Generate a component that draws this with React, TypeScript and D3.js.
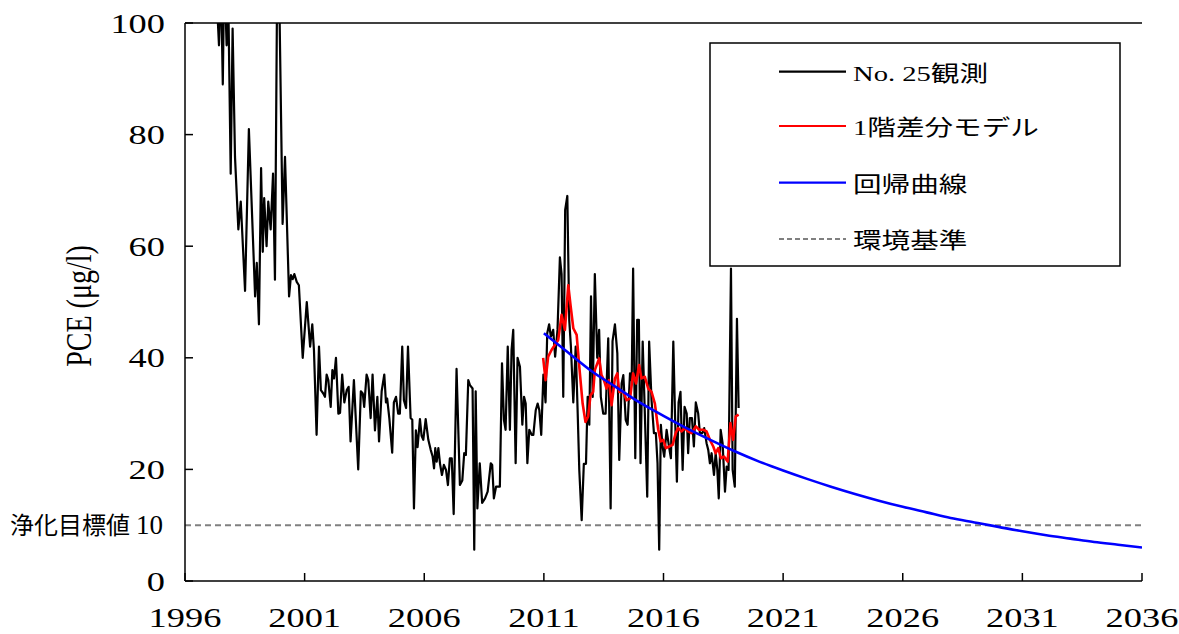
import React from "react";
import * as d3 from "d3";

const W = 1179;
const H = 634;
const SX = 1.3; // horizontal text stretch seen in the reference

const xTicks = [1996, 2001, 2006, 2011, 2016, 2021, 2026, 2031, 2036];
const yTicks = [0, 20, 40, 60, 80, 100];
const targetValue = 10;

const obsYears = [
  1997.32, 1997.42, 1997.5, 1997.58, 1997.64, 1997.74, 1997.81, 1997.91, 1997.99, 1998.09,
  1998.23, 1998.33, 1998.51, 1998.67, 1998.93, 1999.0, 1999.09, 1999.18, 1999.25, 1999.31,
  1999.41, 1999.48, 1999.58, 1999.68, 1999.76, 1999.87, 1999.94, 2000.08, 2000.18, 2000.35,
  2000.43, 2000.5, 2000.57, 2000.67, 2000.76, 2000.92, 2001.09, 2001.23, 2001.32, 2001.39,
  2001.5, 2001.6, 2001.68, 2001.78, 2001.85, 2001.92, 2001.99, 2002.09, 2002.16, 2002.23,
  2002.31, 2002.41, 2002.48, 2002.57, 2002.66, 2002.76, 2002.84, 2002.92, 2003.06, 2003.24,
  2003.35, 2003.43, 2003.49, 2003.59, 2003.66, 2003.76, 2003.84, 2003.94, 2004.04, 2004.11,
  2004.22, 2004.33, 2004.4, 2004.45, 2004.54, 2004.66, 2004.73, 2004.82, 2004.91, 2004.98,
  2005.08, 2005.15, 2005.24, 2005.32, 2005.43, 2005.5, 2005.57, 2005.65, 2005.72, 2005.82,
  2005.89, 2005.96, 2006.06, 2006.17, 2006.27, 2006.35, 2006.41, 2006.46, 2006.52, 2006.59,
  2006.66, 2006.74, 2006.82, 2006.91, 2006.99, 2007.07, 2007.15, 2007.23, 2007.35, 2007.49,
  2007.59, 2007.67, 2007.74, 2007.84, 2007.91, 2008.02, 2008.09, 2008.15, 2008.22, 2008.32,
  2008.42, 2008.54, 2008.65, 2008.78, 2008.84, 2008.91, 2009.0, 2009.16, 2009.25, 2009.33,
  2009.4, 2009.49, 2009.58, 2009.65, 2009.72, 2009.82, 2009.9, 2010.0, 2010.1, 2010.17,
  2010.24, 2010.31, 2010.39, 2010.49, 2010.56, 2010.66, 2010.74, 2010.81, 2010.89, 2010.98,
  2011.07, 2011.14, 2011.22, 2011.29, 2011.39, 2011.47, 2011.57, 2011.67, 2011.74, 2011.81,
  2011.89, 2011.98, 2012.06, 2012.13, 2012.23, 2012.33, 2012.41, 2012.48, 2012.58, 2012.67,
  2012.76, 2012.83, 2012.9, 2012.97, 2013.04, 2013.13, 2013.23, 2013.31, 2013.38, 2013.48,
  2013.58, 2013.69, 2013.79, 2013.87, 2013.97, 2014.07, 2014.15, 2014.25, 2014.32, 2014.42,
  2014.5, 2014.6, 2014.67, 2014.73, 2014.82, 2014.9, 2014.97, 2015.04, 2015.13, 2015.22,
  2015.32, 2015.4, 2015.5, 2015.6, 2015.68, 2015.75, 2015.82, 2015.89, 2015.96, 2016.03,
  2016.13, 2016.23, 2016.31, 2016.41, 2016.48, 2016.56, 2016.63, 2016.71, 2016.8, 2016.88,
  2016.97, 2017.03, 2017.1, 2017.19, 2017.27, 2017.35, 2017.45, 2017.52, 2017.62, 2017.7,
  2017.8, 2017.87, 2017.94, 2018.01, 2018.11, 2018.18, 2018.25, 2018.31, 2018.39, 2018.47,
  2018.57, 2018.64, 2018.72, 2018.82, 2018.89, 2018.98, 2019.07, 2019.14,
];

const obsValues = [
  105, 96, 108, 89, 110, 96, 104, 73, 99, 76,
  63, 68, 52, 81, 51, 57, 46, 74, 59, 68.6,
  60, 68, 63, 73, 54, 118, 105, 64, 76, 51,
  54.8, 54.1, 55, 53.6, 53, 40, 50, 42, 46, 41.4,
  26.2, 42, 34.2, 33.6, 33, 37, 36, 31.2, 37.8, 36.3,
  40, 30, 30.1, 37, 32, 34.2, 34.8, 25, 36, 20,
  34, 33.6, 31.2, 37, 36, 29.2, 37, 27, 33, 25,
  34, 37, 32, 32.7, 29.2, 23, 32, 33, 30, 30,
  42, 32.4, 31, 42, 29.2, 28.9, 13, 27, 24, 29,
  26, 25.3, 29, 25.3, 23.5, 22.3, 20.2, 23.8, 21.4, 23.8,
  21, 19, 20.8, 19.9, 17.2, 22, 22, 12, 38, 17.2,
  18, 22.9, 22.6, 36, 35.1, 34.5, 5.6, 34, 13, 21.1,
  14, 14.8, 16, 21.1, 20.8, 14.8, 16.9, 16.9, 39, 28.9,
  27.1, 42, 27.1, 41.4, 45, 21.1, 40, 38.4, 28, 33,
  31.8, 21.1, 27.1, 26.2, 26.2, 30.6, 31.8, 30.6, 26.2, 37,
  32, 44.4, 46, 43.8, 45, 40.2, 45, 58, 55, 33,
  66.5, 69, 46.8, 42, 32, 42, 30.6, 19.9, 10.9, 21,
  21, 33, 28, 51, 33, 55, 40, 45, 33, 30,
  30, 43.5, 13, 43, 46, 40.8, 21.7, 35.4, 36.9, 28.9,
  28, 37.2, 36, 56, 22, 46.8, 46.8, 21.1, 42.9, 30,
  15.1, 42.9, 32.4, 26.5, 26.5, 21.1, 5.6, 28, 24.1, 22.3,
  27.1, 24.1, 22, 42.9, 30, 17.8, 32, 33.9, 19.9, 31.2,
  30, 22.9, 29.2, 29.2, 24.1, 32, 30, 26.5, 26.5, 27.4,
  24.7, 23.5, 21.1, 22.9, 19, 22.9, 19.9, 14.8, 27.1, 24.7,
  16, 20.5, 19.9, 56, 19.9, 16.9, 47, 31,
];

const modelYears = [
  2010.97, 2011.07, 2011.18, 2011.32, 2011.46, 2011.6, 2011.74, 2011.88, 2012.02, 2012.12,
  2012.23, 2012.37, 2012.48, 2012.62, 2012.74, 2012.85, 2012.95, 2013.06, 2013.13, 2013.31,
  2013.41, 2013.51, 2013.62, 2013.72, 2013.83, 2013.97, 2014.07, 2014.15, 2014.32, 2014.46,
  2014.6, 2014.73, 2014.85, 2014.98, 2015.08, 2015.22, 2015.36, 2015.5, 2015.64, 2015.78,
  2015.88, 2015.99, 2016.1, 2016.24, 2016.38, 2016.51, 2016.61, 2016.76, 2016.89, 2017.03,
  2017.17, 2017.35, 2017.49, 2017.66, 2017.8, 2017.94, 2018.08, 2018.18, 2018.29, 2018.4,
  2018.53, 2018.68, 2018.8, 2018.91, 2019.02, 2019.14,
];

const modelValues = [
  40, 36, 40.2, 41.4, 42.3, 43.2, 47.7, 45, 53, 49.2,
  45.3, 44.1, 38.4, 31.8, 28.5, 29.5, 33.3, 33.9, 37.8, 39.9,
  36.9, 36, 34.5, 36, 31.5, 36.3, 37.2, 33.9, 33.9, 32.4,
  32.7, 37.2, 35.4, 38.7, 36.3, 36.6, 34.5, 33.9, 31.8, 27.1,
  25, 25.3, 23.8, 24.1, 24.4, 26.5, 27.4, 26.8, 27.4, 26.8,
  26.5, 27.7, 27.1, 27.1, 26.8, 25.3, 24.1, 22.9, 23.8, 22,
  22.3, 21.4, 28.3, 25.3, 29.5, 29.8,
];

const regYears = [
  2011, 2012, 2013, 2014, 2015, 2016, 2017, 2018, 2019, 2020, 2021, 2022, 2023,
  2024, 2025, 2026, 2027, 2028, 2029, 2030, 2031, 2032, 2033, 2034, 2035, 2036,
];
const regValues = [
  44.4, 41, 37.6, 34.8, 32, 29.6, 27.3, 25.2, 23.2, 21.4, 19.8, 18.3, 16.9,
  15.6, 14.4, 13.3, 12.3, 11.3, 10.5, 9.7, 8.9, 8.2, 7.6, 7.0, 6.5, 6.0,
];

const legendItems = [
  { label: "No. 25観測", color: "#000000", dash: "" },
  { label: "1階差分モデル", color: "#ff0000", dash: "" },
  { label: "回帰曲線", color: "#0000ff", dash: "" },
  { label: "環境基準", color: "#808080", dash: "5,3" },
];

const SERIF = "'Liberation Serif', 'Times New Roman', 'Noto Sans CJK JP', serif";
const CJK = "'Noto Sans CJK JP', 'Noto Sans', sans-serif";

function STxt(props: {
  x: number;
  y: number;
  anchor?: string;
  size: number;
  family?: string;
  rotate?: number;
  children: React.ReactNode;
}) {
  const { x, y, anchor = "start", size, family = SERIF, rotate = 0, children } = props;
  return (
    <text
      transform={`translate(${x},${y}) scale(${SX},1)${rotate ? ` rotate(${rotate})` : ""}`}
      textAnchor={anchor}
      fontSize={size}
      fontFamily={family}
      fill="#000"
    >
      {children}
    </text>
  );
}

export default function App() {
  const left = 185;
  const right = 1142;
  const top = 23;
  const bottom = 581;

  const x = d3.scaleLinear().domain([1996, 2036]).range([left, right]);
  const y = d3.scaleLinear().domain([0, 100]).range([bottom, top]);

  const line = d3
    .line<[number, number]>()
    .x((d) => x(d[0]))
    .y((d) => y(d[1]));
  const smooth = d3
    .line<[number, number]>()
    .x((d) => x(d[0]))
    .y((d) => y(d[1]))
    .curve(d3.curveMonotoneX);

  const obs = obsYears.map((t, i) => [t, obsValues[i]] as [number, number]);
  const model = modelYears.map((t, i) => [t, modelValues[i]] as [number, number]);
  const reg = regYears.map((t, i) => [t, regValues[i]] as [number, number]);

  const legX = 710;
  const legY = 43;
  const legW = 410;
  const legH = 223;
  const rowYs = [71.7, 126, 182.7, 239];

  return (
    <div style={{ position: "fixed", left: 0, top: 0, width: W, height: H, background: "#fff" }}>
      <svg width={W} height={H} viewBox={`0 0 ${W} ${H}`} style={{ display: "block" }}>
        <rect x={0} y={0} width={W} height={H} fill="#fff" />
        <defs>
          <clipPath id="plotclip">
            <rect x={left} y={top} width={right - left} height={bottom - top} />
          </clipPath>
        </defs>

        {/* target line */}
        <line
          x1={left}
          x2={right}
          y1={y(targetValue)}
          y2={y(targetValue)}
          stroke="#808080"
          strokeWidth={2}
          strokeDasharray="6,4"
        />

        <g clipPath="url(#plotclip)">
          <path d={line(obs) || ""} fill="none" stroke="#000" strokeWidth={2.2} strokeLinejoin="round" />
          <path d={line(model) || ""} fill="none" stroke="#ff0000" strokeWidth={2.6} strokeLinejoin="round" />
          <path d={smooth(reg) || ""} fill="none" stroke="#0000ff" strokeWidth={2.6} />
        </g>

        {/* axes */}
        <line x1={left} x2={left} y1={top} y2={bottom} stroke="#000" strokeWidth={1.5} />
        <line x1={left} x2={right} y1={bottom} y2={bottom} stroke="#000" strokeWidth={1.5} />
        <line x1={left} x2={right} y1={top} y2={top} stroke="#000" strokeWidth={1.5} />
        {yTicks.map((v) => (
          <g key={"yt" + v}>
            <line x1={left} x2={left + 8} y1={y(v)} y2={y(v)} stroke="#000" strokeWidth={1.5} />
            <STxt x={165} y={y(v) + 9.5} anchor="end" size={28}>
              {String(v)}
            </STxt>
          </g>
        ))}
        {xTicks.map((t) => (
          <g key={"xt" + t}>
            <line x1={x(t)} x2={x(t)} y1={bottom} y2={bottom - 8} stroke="#000" strokeWidth={1.5} />
            <STxt x={x(t)} y={627} anchor="middle" size={28}>
              {String(t)}
            </STxt>
          </g>
        ))}

        {/* target label */}
        <text x={163} y={y(targetValue) + 9} textAnchor="end" fill="#000">
          <tspan fontFamily={CJK} fontSize={24}>
            浄化目標値
          </tspan>
          <tspan fontFamily={SERIF} fontSize={27} dx={6}>
            10
          </tspan>
        </text>

        {/* y axis title */}
        <STxt x={91} y={306} anchor="middle" size={28} rotate={-90}>
          PCE (μg/l)
        </STxt>

        {/* legend */}
        <rect x={legX} y={legY} width={legW} height={legH} fill="#fff" stroke="#000" strokeWidth={1.5} />
        {legendItems.map((it, i) => (
          <g key={it.label}>
            <line
              x1={779}
              x2={846}
              y1={rowYs[i]}
              y2={rowYs[i]}
              stroke={it.color}
              strokeWidth={it.dash ? 2 : 2.2}
              strokeDasharray={it.dash || undefined}
            />
            <STxt x={853} y={rowYs[i] + 9} size={22}>
              {it.label}
            </STxt>
          </g>
        ))}
      </svg>
    </div>
  );
}
